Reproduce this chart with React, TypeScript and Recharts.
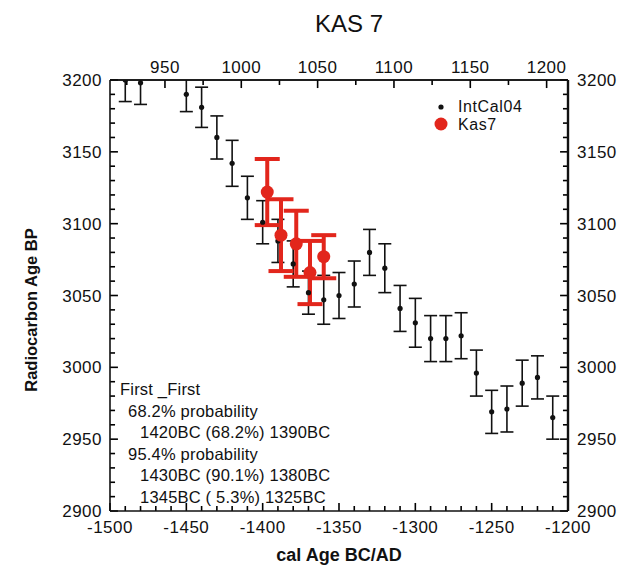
import React from 'react';
import { ComposedChart, Scatter, XAxis, YAxis, ErrorBar, ReferenceLine } from 'recharts';

// IntCal04 calibration curve points
const intcalAge = [-1490, -1480, -1450, -1440, -1430, -1420, -1410, -1400, -1390, -1380, -1370, -1360, -1350, -1340, -1330, -1320, -1310, -1300, -1290, -1280, -1270, -1260, -1250, -1240, -1230, -1220, -1210];
const intcalBP = [3200, 3198, 3190, 3181, 3160, 3142, 3118, 3101, 3088, 3072, 3052, 3047, 3050, 3058, 3080, 3069, 3041, 3031, 3020, 3020, 3022, 2996, 2969, 2971, 2989, 2993, 2965];
const intcalErr = [15, 15, 12, 14, 15, 16, 15, 15, 15, 16, 15, 17, 16, 16, 16, 17, 16, 17, 16, 16, 16, 16, 15, 16, 16, 15, 15];

// Kas7 samples
const kasAge = [-1397, -1388, -1378, -1369, -1360];
const kasBP = [3122, 3092, 3086, 3066, 3077];
const kasErr = [23, 25, 23, 22, 15];

// axis labels
const bottomLabels = [-1500, -1450, -1400, -1350, -1300, -1250, -1200];
const topLabels = [950, 1000, 1050, 1100, 1150, 1200];
const yLabels = [2900, 2950, 3000, 3050, 3100, 3150, 3200];

const infoLines = [
  'First _First',
  '68.2% probability',
  '1420BC (68.2%) 1390BC',
  '95.4% probability',
  '1430BC (90.1%) 1380BC',
  '1345BC ( 5.3%) 1325BC',
];
const infoIndent = [0, 8, 20, 8, 20, 20];

const FONT = "'Liberation Sans', Arial, Helvetica, sans-serif";
const INK = '#111';

const steps = (from: number, to: number, step: number) => {
  const out: number[] = [];
  for (let v = from; v <= to + 1e-9; v += step) out.push(v);
  return out;
};

const X0 = bottomLabels[0];
const X1 = bottomLabels[bottomLabels.length - 1];
const Y0 = yLabels[0];
const Y1 = yLabels[yLabels.length - 1];

const bottomTicks = steps(X0, X1, 10);
const topTicks = steps(925, 1200, 25);
const yTicks = steps(Y0, Y1, 10);

// inward tick lengths, in axis units (major / minor)
const XT = [5.2, 3.3];
const YT = [5.6, 3.5];

const intcalData = intcalAge.map((x, i) => ({ x, y: intcalBP[i], err: intcalErr[i] }));
const kasData = kasAge.map((x, i) => ({ x, y: kasBP[i], err: kasErr[i] }));
// anchor for the secondary (top) axis
const topAxisAnchor = topLabels.map((x) => ({ x, y: Y0 }));

const labelStyle = { fontFamily: FONT, fontSize: 17, letterSpacing: 0.5, fill: INK } as any;

const makeTick = (orient: string, labels: number[]) => (props: any) => {
  const x = Number(props.x);
  const y = Number(props.y);
  const v = props.payload.value;
  if (!labels.includes(v)) return <g />;
  if (orient === 'bottom') return <text x={x} y={y + 22} textAnchor="middle" style={labelStyle}>{v}</text>;
  if (orient === 'top') return <text x={x} y={y - 7} textAnchor="middle" style={labelStyle}>{v}</text>;
  if (orient === 'left') return <text x={x - 8} y={y + 6} textAnchor="end" style={labelStyle}>{v}</text>;
  return <text x={x + 9} y={y + 6} textAnchor="start" style={labelStyle}>{v}</text>;
};

const BlackDot = (p: any) => <circle cx={p.cx} cy={p.cy} r={2.6} fill={INK} />;
const RedDot = (p: any) => <circle cx={p.cx} cy={p.cy} r={6.5} fill="#e2261c" />;
const NoDot = () => <g />;

const tickLines = [
  ...bottomTicks.map((v) => {
    const l = bottomLabels.includes(v) ? YT[0] : YT[1];
    return (
      <ReferenceLine key={`b${v}`} xAxisId="bottom" yAxisId="left" ifOverflow="visible"
        segment={[{ x: v, y: Y0 }, { x: v, y: Y0 + l }]} stroke="#000" strokeWidth={1.6} />
    );
  }),
  ...topTicks.map((v) => {
    const l = topLabels.includes(v) ? YT[0] : YT[1];
    return (
      <ReferenceLine key={`t${v}`} xAxisId="top" yAxisId="left" ifOverflow="visible"
        segment={[{ x: v, y: Y1 }, { x: v, y: Y1 - l }]} stroke="#000" strokeWidth={1.6} />
    );
  }),
  ...yTicks.map((v) => {
    const l = yLabels.includes(v) ? XT[0] : XT[1];
    return (
      <ReferenceLine key={`l${v}`} xAxisId="bottom" yAxisId="left" ifOverflow="visible"
        segment={[{ x: X0, y: v }, { x: X0 + l, y: v }]} stroke="#000" strokeWidth={1.6} />
    );
  }),
  ...yTicks.map((v) => {
    const l = yLabels.includes(v) ? XT[0] : XT[1];
    return (
      <ReferenceLine key={`r${v}`} xAxisId="bottom" yAxisId="left" ifOverflow="visible"
        segment={[{ x: X1, y: v }, { x: X1 - l, y: v }]} stroke="#000" strokeWidth={1.6} />
    );
  }),
];

export default function App() {
  return (
    <div style={{ position: 'absolute', left: 0, top: 0, width: 620, height: 568, background: '#fff' }}>
      <style>{`.recharts-errorBar { clip-path: url(#plotClip); }`}</style>
      <svg
        width={620}
        height={568}
        style={{ position: 'absolute', left: 0, top: 0, pointerEvents: 'none' }}
      >
        <defs>
          <clipPath id="plotClip" clipPathUnits="userSpaceOnUse">
            <rect x={110} y={80} width={458} height={431} />
          </clipPath>
        </defs>
        <text x={349} y={32} textAnchor="middle" style={{ fontFamily: FONT, fontSize: 24, fill: INK }}>KAS 7</text>
        <text x={339} y={561} textAnchor="middle" style={{ fontFamily: FONT, fontSize: 18, fontWeight: 700, fill: INK }}>cal Age BC/AD</text>
        <text
          transform="translate(37,310) rotate(-90)"
          textAnchor="middle"
          style={{ fontFamily: FONT, fontSize: 16.5, fontWeight: 700, fill: INK }}
        >
          Radiocarbon Age BP
        </text>
        <circle cx={441} cy={107} r={2.6} fill={INK} />
        <text x={458} y={112} style={{ fontFamily: FONT, fontSize: 16, letterSpacing: 0.6, fill: INK }}>IntCal04</text>
        <circle cx={441} cy={124} r={6.5} fill="#e2261c" />
        <text x={458} y={129.5} style={{ fontFamily: FONT, fontSize: 16, letterSpacing: 0.6, fill: INK }}>Kas7</text>
        {infoLines.map((t, i) => (
          <text
            key={i}
            x={120 + infoIndent[i]}
            y={395 + i * 21.5}
            style={{ fontFamily: FONT, fontSize: 16.5, letterSpacing: 0.2, fill: INK }}
          >
            {t}
          </text>
        ))}
      </svg>
      <div style={{ position: 'absolute', left: 0, top: 0 }}>
        <ComposedChart
          width={620}
          height={568}
          margin={{ top: 50, right: 2, bottom: 27, left: 50 }}
        >
          <XAxis
            xAxisId="bottom"
            orientation="bottom"
            type="number"
            dataKey="x"
            domain={[X0, X1]}
            ticks={bottomTicks}
            interval={0}
            height={30}
            tickSize={0}
            tickMargin={0}
            tickLine={false}
            allowDataOverflow
            axisLine={{ stroke: INK, strokeWidth: 1.6 }}
            tick={makeTick('bottom', bottomLabels)}
          />
          <XAxis
            xAxisId="top"
            orientation="top"
            type="number"
            dataKey="x"
            domain={[914, 1214]}
            ticks={topTicks}
            interval={0}
            height={30}
            tickSize={0}
            tickMargin={0}
            tickLine={false}
            allowDataOverflow
            axisLine={{ stroke: INK, strokeWidth: 1.6 }}
            tick={makeTick('top', topLabels)}
          />
          <YAxis
            yAxisId="left"
            orientation="left"
            type="number"
            dataKey="y"
            domain={[Y0, Y1]}
            ticks={yTicks}
            interval={0}
            width={60}
            tickSize={0}
            tickMargin={0}
            tickLine={false}
            allowDataOverflow
            axisLine={{ stroke: INK, strokeWidth: 1.6 }}
            tick={makeTick('left', yLabels)}
          />
          <YAxis
            yAxisId="right"
            orientation="right"
            type="number"
            dataKey="y"
            domain={[Y0, Y1]}
            ticks={yTicks}
            interval={0}
            width={50}
            tickSize={0}
            tickMargin={0}
            tickLine={false}
            allowDataOverflow
            axisLine={{ stroke: INK, strokeWidth: 2.4 }}
            tick={makeTick('right', yLabels)}
          />
          <ReferenceLine xAxisId="bottom" yAxisId="left" y={Y1} stroke={INK} strokeWidth={1.6} />
          {tickLines}
          <Scatter
            name="axisAnchor"
            data={topAxisAnchor}
            xAxisId="top"
            yAxisId="right"
            dataKey="y"
            shape={NoDot}
            legendType="none"
            isAnimationActive={false}
          />
          <Scatter
            name="IntCal04"
            data={intcalData}
            xAxisId="bottom"
            yAxisId="left"
            dataKey="y"
            shape={BlackDot}
            isAnimationActive={false}
          >
            <ErrorBar dataKey="err" direction="y" width={6.5} stroke={INK} strokeWidth={1.6} isAnimationActive={false} />
          </Scatter>
          <Scatter
            name="Kas7"
            data={kasData}
            xAxisId="bottom"
            yAxisId="left"
            dataKey="y"
            shape={RedDot}
            isAnimationActive={false}
          >
            <ErrorBar dataKey="err" direction="y" width={12.5} stroke="#e2261c" strokeWidth={4} isAnimationActive={false} />
          </Scatter>
        </ComposedChart>
      </div>
    </div>
  );
}
